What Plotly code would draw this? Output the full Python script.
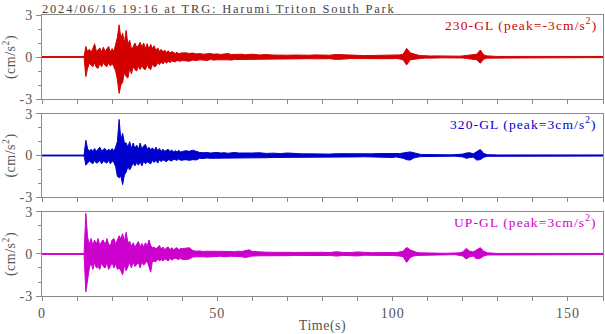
import numpy as np
import plotly.graph_objects as go

# ---- sample grid (s) ----
t_grid = np.concatenate([
    [0, 6, 12],
    np.arange(12.5, 40.01, 0.5),
    np.arange(41, 61, 1),
    np.arange(62, 101, 2),
    np.arange(101, 128, 1),
    [130, 140, 150, 160],
])

# ---- envelope values (cm/s^2): max / min around each sample ----
red_hi = ([0.03, 0.03, 0.03] +
    [0.75, 0.4, 0.55, 0.35, 0.6, 0.95, 0.4, 0.5, 0.65, 0.35, 0.7, 0.4, 0.6, 0.75, 0.35, 0.6, 0.4, 0.9, 1.4, 2.3,
     1.3, 1.7, 1.0, 1.9, 0.9, 1.2, 0.6, 0.7, 1.0, 0.7, 0.8, 1.05, 0.7, 1.0, 0.6, 0.95, 0.55, 0.9, 0.6, 0.8,
     0.45, 0.65, 0.4, 0.55, 0.35, 0.5, 0.3, 0.45, 0.28, 0.4, 0.3, 0.25, 0.35, 0.22, 0.28, 0.3] +
    [0.3, 0.25, 0.28, 0.22, 0.25, 0.2, 0.22, 0.25, 0.2, 0.22, 0.18, 0.2, 0.25, 0.18, 0.2, 0.17, 0.2, 0.16, 0.18, 0.2] +
    [0.15, 0.18, 0.14, 0.16, 0.13, 0.14, 0.12, 0.13, 0.15, 0.12, 0.13, 0.18, 0.16, 0.11, 0.12, 0.1, 0.11, 0.12, 0.1, 0.12] +
    [0.12, 0.15, 0.2, 0.62, 0.3, 0.2, 0.15, 0.1, 0.08, 0.08, 0.07, 0.08, 0.07, 0.07, 0.06, 0.07, 0.06, 0.07, 0.06,
     0.08, 0.1, 0.12, 0.15, 0.2, 0.5, 0.15, 0.08] +
    [0.04, 0.04, 0.04, 0.04])
red_lo = ([-0.03, -0.03, -0.03] +
    [-1.4, -0.8, -0.45, -0.55, -0.7, -0.4, -0.75, -0.8, -0.45, -0.7, -0.4, -0.6, -0.7, -0.4, -0.65, -0.45, -0.7, -1.0, -1.6, -2.6,
     -2.0, -1.8, -1.1, -1.4, -1.5, -0.8, -1.2, -0.7, -0.9, -1.0, -0.65, -0.9, -0.6, -0.85, -0.9, -0.55, -0.8, -0.9, -0.5, -0.7,
     -0.65, -0.4, -0.55, -0.35, -0.5, -0.3, -0.45, -0.3, -0.4, -0.28, -0.3, -0.35, -0.25, -0.28, -0.3, -0.25] +
    [-0.25, -0.3, -0.22, -0.25, -0.2, -0.22, -0.25, -0.18, -0.22, -0.2, -0.2, -0.18, -0.2, -0.22, -0.17, -0.18, -0.2, -0.16, -0.18, -0.15] +
    [-0.14, -0.15, -0.16, -0.13, -0.14, -0.12, -0.13, -0.12, -0.13, -0.14, -0.12, -0.17, -0.15, -0.11, -0.1, -0.11, -0.12, -0.1, -0.11, -0.12] +
    [-0.1, -0.14, -0.2, -0.57, -0.2, -0.15, -0.12, -0.1, -0.08, -0.07, -0.07, -0.06, -0.07, -0.06, -0.06, -0.06, -0.06, -0.05, -0.06,
     -0.07, -0.1, -0.1, -0.15, -0.2, -0.45, -0.15, -0.08] +
    [-0.04, -0.04, -0.04, -0.04])

blue_hi = ([0.03, 0.03, 0.03] +
    [1.1, 0.5, 0.3, 0.45, 0.3, 0.5, 0.3, 0.45, 0.6, 0.3, 0.45, 0.5, 0.3, 0.45, 0.35, 0.5, 0.3, 0.6, 1.0, 2.6,
     1.1, 1.6, 0.9, 0.9, 0.6, 1.0, 0.5, 0.9, 0.5, 0.75, 0.45, 0.9, 0.45, 0.7, 0.8, 0.45, 0.6, 0.4, 0.55, 0.35,
     0.6, 0.35, 0.5, 0.3, 0.45, 0.3, 0.38, 0.45, 0.28, 0.4, 0.25, 0.35, 0.25, 0.38, 0.25, 0.28] +
    [0.35, 0.3, 0.38, 0.3, 0.22, 0.2, 0.22, 0.18, 0.2, 0.22, 0.18, 0.2, 0.16, 0.2, 0.22, 0.18, 0.17, 0.2, 0.16, 0.18] +
    [0.2, 0.15, 0.17, 0.14, 0.18, 0.13, 0.12, 0.12, 0.1, 0.11, 0.1, 0.13, 0.12, 0.1, 0.09, 0.1, 0.12, 0.14, 0.13, 0.15] +
    [0.12, 0.14, 0.18, 0.2, 0.26, 0.2, 0.12, 0.08, 0.07, 0.06, 0.06, 0.05, 0.06, 0.05, 0.05, 0.05, 0.05, 0.06, 0.06,
     0.1, 0.18, 0.2, 0.12, 0.3, 0.43, 0.15, 0.06] +
    [0.04, 0.04, 0.04, 0.04])
blue_lo = ([-0.03, -0.03, -0.03] +
    [-0.7, -0.55, -0.4, -0.5, -0.6, -0.35, -0.55, -0.5, -0.35, -0.6, -0.4, -0.45, -0.55, -0.35, -0.6, -0.4, -0.5, -0.8, -1.5, -1.6,
     -1.5, -2.1, -1.4, -1.2, -0.8, -1.05, -0.8, -0.55, -0.75, -0.5, -0.7, -0.45, -0.75, -0.4, -0.6, -0.45, -0.5, -0.6, -0.35, -0.5,
     -0.35, -0.55, -0.3, -0.45, -0.3, -0.35, -0.45, -0.3, -0.35, -0.4, -0.28, -0.3, -0.35, -0.25, -0.35, -0.3] +
    [-0.3, -0.35, -0.3, -0.32, -0.2, -0.22, -0.18, -0.2, -0.2, -0.18, -0.2, -0.17, -0.2, -0.18, -0.16, -0.2, -0.18, -0.15, -0.18, -0.16] +
    [-0.17, -0.16, -0.14, -0.15, -0.13, -0.15, -0.12, -0.1, -0.11, -0.1, -0.11, -0.12, -0.13, -0.1, -0.1, -0.09, -0.12, -0.13, -0.12, -0.14] +
    [-0.1, -0.15, -0.2, -0.3, -0.33, -0.18, -0.12, -0.08, -0.06, -0.06, -0.05, -0.06, -0.05, -0.05, -0.05, -0.05, -0.05, -0.05, -0.06,
     -0.1, -0.2, -0.15, -0.12, -0.33, -0.3, -0.12, -0.06] +
    [-0.04, -0.04, -0.04, -0.04])

mag_hi = ([0.03, 0.03, 0.03] +
    [2.9, 1.2, 0.7, 1.1, 0.6, 1.0, 0.7, 1.1, 0.55, 0.9, 1.0, 0.6, 1.1, 0.7, 0.6, 1.0, 1.1, 0.7, 1.0, 1.3,
     1.1, 1.45, 0.9, 1.55, 0.8, 0.9, 0.55, 0.8, 0.5, 0.7, 0.9, 0.5, 0.75, 0.5, 0.8, 0.55, 1.0, 0.6, 0.45, 0.5,
     0.35, 0.5, 0.6, 0.35, 0.5, 0.3, 0.45, 0.5, 0.3, 0.45, 0.3, 0.4, 0.45, 0.3, 0.4, 0.38] +
    [0.4, 0.45, 0.25, 0.2, 0.22, 0.18, 0.2, 0.2, 0.22, 0.18, 0.2, 0.17, 0.2, 0.18, 0.16, 0.2, 0.18, 0.22, 0.3, 0.18] +
    [0.14, 0.13, 0.12, 0.14, 0.12, 0.11, 0.12, 0.1, 0.11, 0.12, 0.1, 0.16, 0.11, 0.1, 0.15, 0.1, 0.09, 0.1, 0.09, 0.1] +
    [0.1, 0.15, 0.2, 0.47, 0.3, 0.2, 0.1, 0.08, 0.07, 0.06, 0.06, 0.06, 0.05, 0.06, 0.05, 0.06, 0.05, 0.06, 0.08,
     0.15, 0.4, 0.2, 0.15, 0.3, 0.45, 0.2, 0.08] +
    [0.04, 0.04, 0.04, 0.04])
mag_lo = ([-0.03, -0.03, -0.03] +
    [-2.7, -1.8, -1.0, -0.6, -1.1, -0.6, -1.0, -0.9, -1.1, -0.6, -0.9, -1.0, -0.6, -1.1, -0.9, -0.6, -1.0, -0.7, -1.1, -1.0,
     -1.2, -1.5, -0.8, -1.2, -0.9, -0.6, -1.0, -0.55, -0.9, -0.75, -0.6, -1.0, -0.55, -0.8, -0.65, -0.5, -0.8, -1.3, -0.5, -0.5,
     -0.55, -0.35, -0.5, -0.4, -0.5, -0.35, -0.4, -0.5, -0.3, -0.45, -0.35, -0.3, -0.35, -0.4, -0.3, -0.4] +
    [-0.4, -0.35, -0.22, -0.2, -0.18, -0.2, -0.22, -0.17, -0.2, -0.18, -0.16, -0.2, -0.18, -0.16, -0.18, -0.17, -0.2, -0.25, -0.18, -0.15] +
    [-0.13, -0.12, -0.13, -0.11, -0.12, -0.1, -0.11, -0.12, -0.1, -0.11, -0.1, -0.15, -0.1, -0.11, -0.14, -0.09, -0.1, -0.09, -0.1, -0.1] +
    [-0.1, -0.15, -0.2, -0.6, -0.25, -0.15, -0.1, -0.07, -0.06, -0.06, -0.06, -0.05, -0.05, -0.05, -0.05, -0.05, -0.05, -0.05, -0.08,
     -0.15, -0.35, -0.2, -0.15, -0.35, -0.3, -0.15, -0.07] +
    [-0.04, -0.04, -0.04, -0.04])

labels = ["230-GL (peak=-3cm/s<sup>2</sup>)", "320-GL (peak=3cm/s<sup>2</sup>)", "UP-GL (peak=3cm/s<sup>2</sup>)"]
colors = ["#d40000", "#0000cc", "#cc00cc"]
title = "2024/06/16 19:16 at TRG: Harumi Triton South Park"
x_ticks = [0, 50, 100, 150]
y_ticks = [-3, 0, 3]
y_title = "(cm/s<sup>2</sup>)"
x_title = "Time(s)"

series = [(red_hi, red_lo), (blue_hi, blue_lo), (mag_hi, mag_lo)]
for h, l in series:
    assert len(h) == len(t_grid) and len(l) == len(t_grid), (len(h), len(l), len(t_grid))


def spaced(s, px):
    return f'<span style="letter-spacing:{px}px">{s}</span>'


FONT = "Liberation Serif, Times New Roman, serif"
AX = "#8a8a8a"
TXT = "#555555"

fig = go.Figure()
domains = [[0.701, 1.0], [0.352, 0.648], [0.0, 0.299]]
for k, ((h, l), c) in enumerate(zip(series, colors)):
    n = k + 1
    xs = list(t_grid) + list(t_grid[::-1])
    ys = list(h) + list(l[::-1])
    fig.add_trace(go.Scatter(x=xs, y=ys, mode="lines", fill="toself", fillcolor=c,
                             line=dict(color=c, width=1),
                             xaxis=f"x{n}" if n > 1 else "x", yaxis=f"y{n}" if n > 1 else "y",
                             showlegend=False, hoverinfo="skip"))
    xa = dict(domain=[0, 1], range=[0, 160], showline=True, mirror=True, linecolor=AX, linewidth=1,
              ticks="outside", ticklen=4, tickcolor=AX, tickvals=x_ticks,
              ticktext=[spaced(str(v), 1) for v in x_ticks],
              minor=dict(dtick=10, ticks="outside", ticklen=4, tickcolor=AX, showgrid=False),
              showgrid=False, zeroline=False, anchor=f"y{n}" if n > 1 else "y",
              showticklabels=(n == 3), tickfont=dict(family=FONT, size=14, color=TXT))
    if n == 3:
        xa["title"] = dict(text=spaced(x_title, 0.5), font=dict(family=FONT, size=14, color=TXT), standoff=2)
    ya = dict(domain=domains[k], range=[-3, 3], showline=True, mirror=True, linecolor=AX, linewidth=1,
              ticks="outside", ticklen=5, tickcolor=AX, tickvals=y_ticks,
              ticktext=[spaced(str(v), 1) for v in y_ticks],
              minor=dict(dtick=1, ticks="outside", ticklen=3, tickcolor=AX, showgrid=False),
              showgrid=False, zeroline=False, anchor=f"x{n}" if n > 1 else "x",
              tickfont=dict(family=FONT, size=14, color=TXT),
              title=dict(text=spaced(y_title, 0.5), font=dict(family=FONT, size=14, color=TXT), standoff=6))
    fig.layout[f"xaxis{n}" if n > 1 else "xaxis"] = xa
    fig.layout[f"yaxis{n}" if n > 1 else "yaxis"] = ya
    fig.add_annotation(text=spaced(labels[k], 1.1), xref="paper", yref="paper", x=1, y=domains[k][1],
                       xanchor="right", yanchor="top", showarrow=False, xshift=-4, yshift=1,
                       font=dict(family=FONT, size=13.5, color=c))

fig.add_annotation(text=spaced(title, 1.8), xref="paper", yref="paper", x=0, y=1, xanchor="left", yanchor="bottom",
                   showarrow=False, xshift=-2, yshift=-3, font=dict(family=FONT, size=12.5, color="#444444"))

fig.update_layout(width=605, height=334, margin=dict(l=42, r=2, t=15, b=38),
                  paper_bgcolor="white", plot_bgcolor="white")
fig.write_html("out.html")
